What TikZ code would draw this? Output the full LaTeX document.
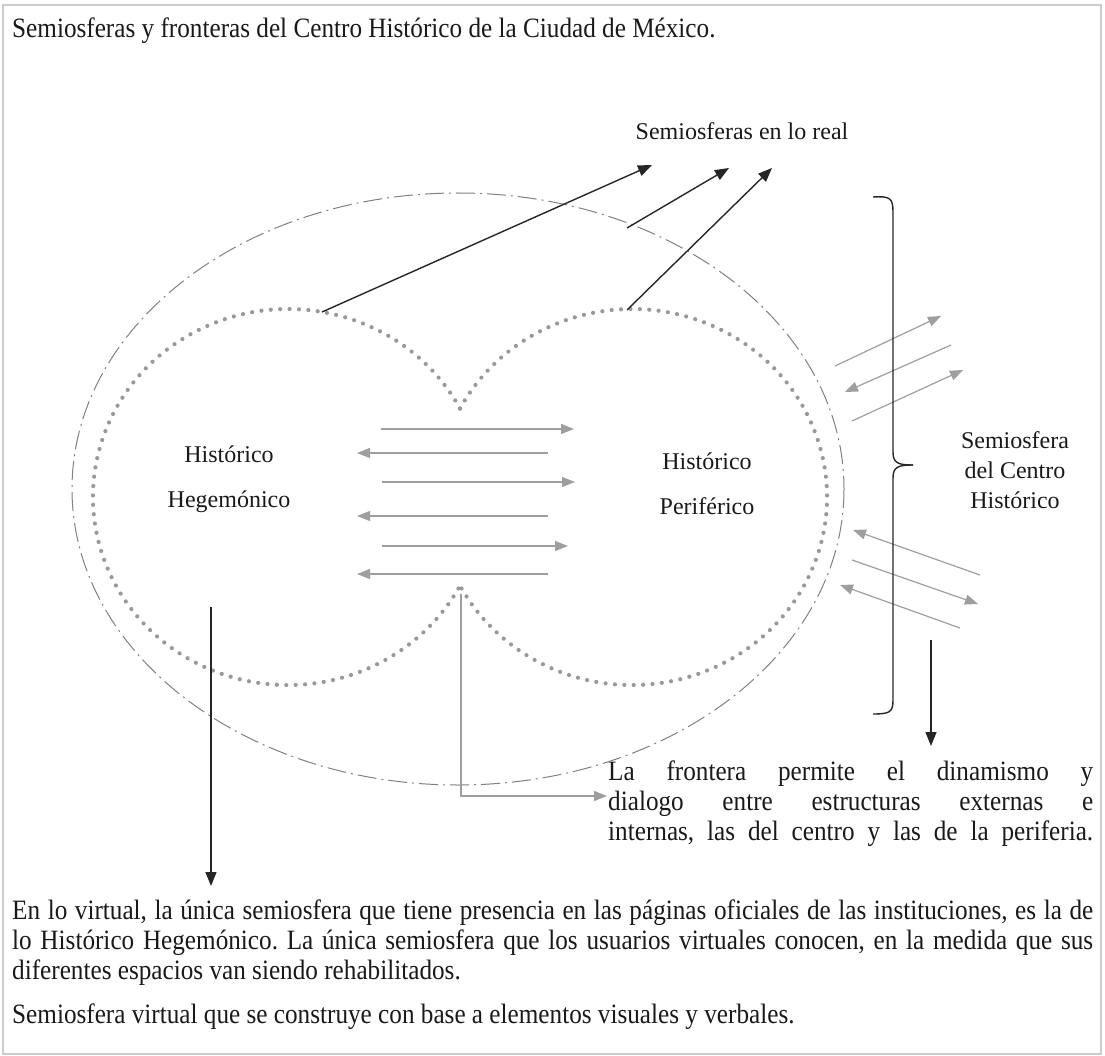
\documentclass[tikz,border=0pt]{standalone}
\usepackage{fontspec}
\setmainfont{Liberation Serif}
\newfontfamily\condserif{Liberation Serif}[FakeStretch=0.9]
\usetikzlibrary{arrows.meta}
\begin{document}
\begin{tikzpicture}[x=1pt,y=-1pt,
  txt/.style={font=\fontsize{24}{30}\selectfont, inner sep=0pt, text=black!90},
  ctxt/.style={font=\condserif\fontsize{28}{30}\selectfont\frenchspacing, inner sep=0pt, text=black!90},
  blk/.style={draw=black!85, line width=1.4pt, -{Triangle[length=14pt,width=11pt]}},
  gry/.style={draw=black!38, line width=1.2pt, -{Triangle[length=13pt,width=10pt]}},
  dots/.style={draw=black!40, line width=4.2pt, line cap=round, dash pattern=on 0pt off 9.4pt},
  dashdotline/.style={draw=black!50, line width=1pt, dash pattern=on 19pt off 5pt on 2pt off 5pt},
  bracestyle/.style={draw=black!85, line width=1.4pt}
]
\useasboundingbox (0,0) rectangle (1105,1056);
\draw[gray!40, line width=1.5pt] (3,5) rectangle (1101,1054);

% texts
\node[ctxt, anchor=base west] (title) at (12,38) {Semiosferas y fronteras del Centro Histórico de la Ciudad de México.};
\node[txt] (real) at (742,131) {Semiosferas en lo real};
\node[txt, align=center] (hh) at (229,479) {Histórico\\[15pt]Hegemónico};
\node[txt, align=center] (hp) at (707,484) {Histórico\\[15pt]Periférico};
\node[txt, align=center] (sch) at (1015,470) {Semiosfera\\del Centro\\Histórico};
\node[ctxt, anchor=north west, text width=485pt, align=justify] (front) at (608,761)
  {\tolerance=10000 La frontera permite el dinamismo y\linebreak dialogo entre estructuras externas e\linebreak internas, las del centro y las de la periferia.\parfillskip=0pt\par};
\node[ctxt, anchor=north west, text width=1081pt, align=justify] (virt) at (12,900)
  {\tolerance=10000 En lo virtual, la única semiosfera que tiene presencia en las páginas oficiales de las instituciones, es la de\linebreak lo Histórico Hegemónico. La única semiosfera que los usuarios virtuales conocen, en la medida que sus\linebreak diferentes espacios van siendo rehabilitados.};
\node[ctxt, anchor=base west] (semv) at (12,1023) {Semiosfera virtual que se construye con base a elementos visuales y verbales.};

% outer dash-dot ellipse
\draw[dashdotline] (458,489) ellipse [x radius=386, y radius=296];

% dotted circles
\coordinate (cuspT) at (460,408.5);
\draw[dots] (cuspT) arc[start angle=-28.1, end angle=-331.9, x radius=195, y radius=188];
\draw[dots] (cuspT) arc[start angle=208.1, end angle=511.9, x radius=195, y radius=188];

% black arrows to "Semiosferas en lo real"
\coordinate (a1s) at (322,312); \coordinate (a1e) at (652,165);
\coordinate (a2s) at (627,228); \coordinate (a2e) at (729,168);
\coordinate (a3s) at (627,310); \coordinate (a3e) at (772,168);
\draw[blk] (a1s) -- (a1e);
\draw[blk] (a2s) -- (a2e);
\draw[blk] (a3s) -- (a3e);

% central gray arrows
\coordinate (h1a) at (381,429); \coordinate (h1b) at (574,429);
\coordinate (h2a) at (548,453); \coordinate (h2b) at (357,453);
\coordinate (h3a) at (382,482); \coordinate (h3b) at (575,482);
\coordinate (h4a) at (548,516); \coordinate (h4b) at (357,516);
\coordinate (h5a) at (382,546); \coordinate (h5b) at (568,546);
\coordinate (h6a) at (548,574); \coordinate (h6b) at (357,574);
\foreach \i in {1,...,6}{\draw[gry] (h\i a) -- (h\i b);}

% right diagonal gray arrows
\coordinate (ra1) at (835,366); \coordinate (ra2) at (941,316);
\coordinate (rb1) at (951,345); \coordinate (rb2) at (845,392);
\coordinate (rc1) at (852,421); \coordinate (rc2) at (963,370);
\coordinate (rd1) at (980,575); \coordinate (rd2) at (853,530);
\coordinate (re1) at (852,560); \coordinate (re2) at (978,604);
\coordinate (rf1) at (960,628); \coordinate (rf2) at (840,585);
\draw[gry] (ra1) -- (ra2);
\draw[gry] (rb1) -- (rb2);
\draw[gry] (rc1) -- (rc2);
\draw[gry] (rd1) -- (rd2);
\draw[gry] (re1) -- (re2);
\draw[gry] (rf1) -- (rf2);

% brace
\draw[bracestyle] (873,197) .. controls (890,196) and (893,198) .. (893,212) -- (893,452)
   .. controls (893,463) and (898,465) .. (913,465);
\draw[bracestyle] (913,465) .. controls (898,465) and (893,467) .. (893,478) -- (893,700)
   .. controls (893,712) and (890,714) .. (873,714);

% down arrows
\coordinate (bd1) at (931,640); \coordinate (bd2) at (931,746);
\draw[blk] (bd1) -- (bd2);
\coordinate (vA) at (211,607); \coordinate (vB) at (211,886);
\draw[blk] (vA) -- (vB);

% L-shaped gray arrow
\coordinate (lS) at (461,594); \coordinate (lE) at (607,796);
\draw[gry] (lS) |- (lE);
\end{tikzpicture}
\end{document}
